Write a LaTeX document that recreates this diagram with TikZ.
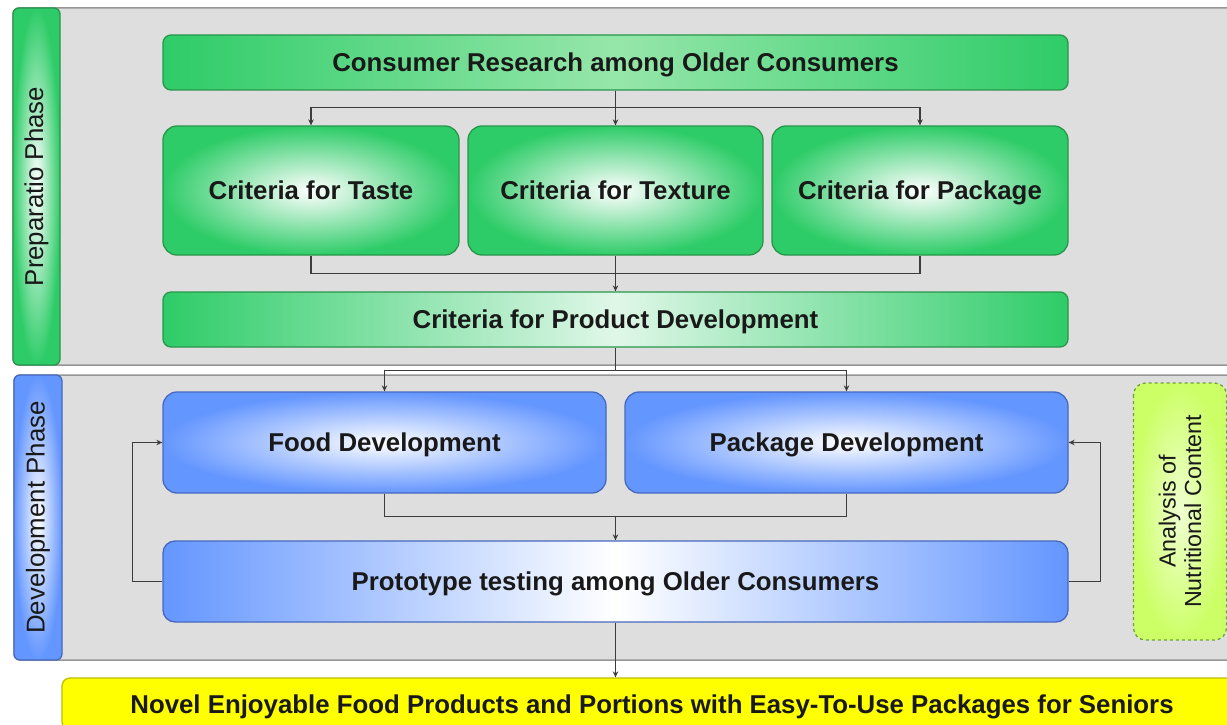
\documentclass[tikz,border=0pt]{standalone}
\usepackage{fontspec}
\setmainfont{Liberation Sans}
\usetikzlibrary{arrows.meta,shadings}
\definecolor{bggray}{RGB}{222,222,222}
\definecolor{bgline}{RGB}{150,150,150}
\definecolor{gr}{RGB}{46,204,104}
\definecolor{grline}{RGB}{40,150,75}
\definecolor{grlight}{RGB}{150,230,170}
\definecolor{bl}{RGB}{100,150,255}
\definecolor{blline}{RGB}{70,105,190}
\definecolor{yel}{RGB}{255,255,0}
\definecolor{yelline}{RGB}{190,190,0}
\definecolor{lime}{RGB}{204,255,102}
\definecolor{limeline}{RGB}{110,160,60}
\definecolor{conncol}{RGB}{60,60,60}
\definecolor{txtcol}{RGB}{25,25,25}
\tikzset{
  txt/.style={font=\fontsize{25.8}{29}\selectfont\bfseries, text=txtcol, align=center, text height=19pt, text depth=1pt},
  gbar/.style={txt, draw=grline, line width=1.3pt, rounded corners=8pt, left color=gr, right color=gr, middle color=grlight},
  gbox/.style={txt, draw=grline, line width=1.3pt, rounded corners=14pt, inner color=white, outer color=gr},
  bbox/.style={txt, draw=blline, line width=1.3pt, rounded corners=14pt, inner color=white, outer color=bl},
  bbar/.style={txt, draw=blline, line width=1.3pt, rounded corners=12pt, left color=bl, right color=bl, middle color=white},
  panel/.style={fill=bggray, draw=bgline, line width=1.5pt, rounded corners=6pt},
  strip/.style={line width=1.3pt, rounded corners=6pt, font=\fontsize{25.8}{29}\selectfont, text=txtcol, rotate=90},
  line/.style={draw=conncol, line width=1.3pt},
  arr/.style={line, -{Stealth[length=6pt,width=5.5pt]}},
}
\begin{document}
\begin{tikzpicture}[x=1pt,y=-1pt]
\useasboundingbox (0,0) rectangle (1227,725);
\clip (0,0) rectangle (1227,725);
\fill[white] (0,0) rectangle (1227,725);
% panels
\draw[panel] (13,8) rectangle (1245,365);
\draw[panel] (14,375) rectangle (1245,660);
\node[strip, draw=grline, inner color=white, outer color=gr, minimum width=357pt, minimum height=47pt] (prep) at (36.5,186.5) {Preparatio Phase};
\node[strip, draw=blline, inner color=white, outer color=bl, minimum width=285pt, minimum height=48pt] (devp) at (38,517.5) {Development Phase};
% boxes
\node[gbar, minimum width=905pt, minimum height=55pt] (cr) at (615.5,62.5) {Consumer Research among Older Consumers};
\node[gbox, minimum width=296pt, minimum height=129pt] (ctas) at (311,190.5) {Criteria for Taste};
\node[gbox, minimum width=295pt, minimum height=129pt] (ctex) at (615.5,190.5) {Criteria for Texture};
\node[gbox, minimum width=296pt, minimum height=129pt] (cpak) at (920,190.5) {Criteria for Package};
\node[gbar, middle color=white!85!gr, minimum width=905pt, minimum height=55pt] (pd) at (615.5,319.5) {Criteria for Product Development};
\node[bbox, minimum width=443pt, minimum height=101pt] (fd) at (384.5,442.5) {Food Development};
\node[bbox, minimum width=443pt, minimum height=101pt] (pkd) at (846.5,442.5) {Package Development};
\node[bbar, minimum width=905pt, minimum height=81pt] (proto) at (615.5,581.5) {Prototype testing among Older Consumers};
\node[draw=limeline, dashed, line width=1.3pt, rounded corners=12pt, inner color=white!70!lime, outer color=lime, minimum width=257pt, minimum height=93pt, rotate=90, font=\fontsize{23.3}{25.5}\selectfont, text=txtcol, align=center] (ana) at (1180,511.5) {Analysis of\\Nutritional Content};
\node[txt, draw=yelline, line width=1.3pt, rounded corners=8pt, fill=yel, minimum width=1180pt, minimum height=52pt] (final) at (652,704) {Novel Enjoyable Food Products and Portions with Easy-To-Use Packages for Seniors};
% connectors
\draw[arr] (cr.south) -- (ctex.north);
\draw[arr] (cr.south) -- ++(0,17) -| (ctas.north);
\draw[arr] (cr.south) -- ++(0,17) -| (cpak.north);
\draw[line] (ctas.south) -- ++(0,18) -| (cpak.south);
\draw[arr] (ctex.south) -- (pd.north);
\draw[arr] (pd.south) -- ++(0,23) -| (fd.north);
\draw[arr] (pd.south) -- ++(0,23) -| (pkd.north);
\draw[line] (fd.south) -- ++(0,23) -| (pkd.south);
\coordinate (fj) at (proto.north |- 0,516);
\draw[arr] (fj) -- (proto.north);
\draw[arr] (proto.west) -- ++(-30,0) |- (fd.west);
\draw[arr] (proto.east) -- ++(32,0) |- (pkd.east);
\draw[arr] (proto.south) -- (proto.south |- final.north);
\end{tikzpicture}
\end{document}
